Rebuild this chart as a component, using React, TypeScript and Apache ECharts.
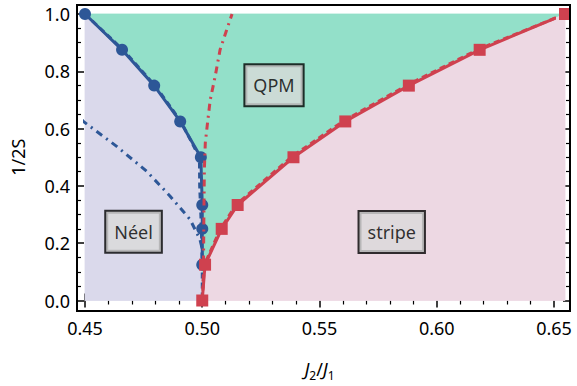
import React, { useEffect, useRef } from 'react';
import * as echarts from 'echarts';

// Axis ticks
const xTickMin = 0.45;
const xTickMax = 0.65;
const xTickStep = 0.05;
const yTickMin = 0;
const yTickMax = 1;
const yTickStep = 0.2;

// Néel–QPM boundary (blue, circles)
const blueX = [0.45, 0.4658, 0.4795, 0.4906, 0.4994, 0.5, 0.5, 0.5];
const blueY = [1.0, 0.875, 0.75, 0.625, 0.5, 0.3333, 0.25, 0.125];

// blue dashed curve
const blueDashX = [0.45, 0.4662, 0.4799, 0.4909, 0.4988, 0.4989, 0.4994, 0.4998, 0.5, 0.5];
const blueDashY = [1.0, 0.875, 0.75, 0.625, 0.5, 0.4, 0.3, 0.2, 0.1, 0.0];

// blue dash-dot curve
const blueDotX = [0.4486, 0.4493, 0.4635, 0.4763, 0.4862, 0.4948, 0.499, 0.5003];
const blueDotY = [0.632, 0.625, 0.538, 0.451, 0.365, 0.283, 0.214, 0.17];

// QPM–stripe boundary (red, squares)
const redX = [0.5, 0.5012, 0.5083, 0.5151, 0.5389, 0.561, 0.5881, 0.6183, 0.6547];
const redY = [0.0, 0.125, 0.25, 0.3333, 0.5, 0.625, 0.75, 0.875, 1.0];

// red dashed curve
const redDashX = [0.5, 0.5009, 0.5079, 0.5146, 0.5383, 0.5604, 0.5876, 0.6178, 0.6547];
const redDashY = [0.0, 0.125, 0.252, 0.3355, 0.5025, 0.6275, 0.7525, 0.877, 1.0];

// red dash-dot curve
const redDotX = [0.5, 0.5005, 0.5007, 0.5009, 0.5013, 0.5024, 0.5034, 0.5055, 0.5076, 0.5104, 0.5127];
const redDotY = [0.0, 0.1, 0.3, 0.457, 0.55, 0.631, 0.7, 0.782, 0.875, 0.944, 1.0];

// phase labels
const phaseNames = ['QPM', 'Néel', 'stripe'];
const phaseX = [0.5306, 0.4707, 0.5808];
const phaseY = [0.751, 0.24, 0.239];

const FONT = 'Noto Sans';
const BLUE = '#2D5797';
const RED = '#CF414F';

const zip = (xs: number[], ys: number[]) => xs.map((x, i) => [x, ys[i]]);

function regionSeries(points: number[][], color: string, z: number) {
  return {
    type: 'custom',
    xAxisIndex: 1,
    yAxisIndex: 1,
    z,
    silent: true,
    clip: false,
    data: [[0.5, 0.5]],
    renderItem: (_p: any, api: any) => ({
      type: 'polygon',
      shape: { points: points.map((p) => api.coord(p)) },
      style: { fill: color, stroke: color, lineWidth: 0.8 },
    }),
  };
}

function lineSeries(data: number[][], color: string, dash: any, z: number, extra: any = {}) {
  return {
    type: 'line',
    xAxisIndex: 1,
    yAxisIndex: 1,
    data,
    z,
    clip: false,
    silent: true,
    symbol: 'none',
    lineStyle: { color, width: 3, type: dash },
    ...extra,
  };
}

export default function App() {
  const ref = useRef<HTMLDivElement>(null);
  useEffect(() => {
    const chart = echarts.init(ref.current!, null, { renderer: 'svg' });

    const blueBoundary = [...zip(blueX, blueY), [0.5, 0]];
    const redBoundary = zip(redX, redY);
    const left = blueX[0];
    const right = redX[redX.length - 1];
    const neel = [...blueBoundary, [left, 0]];
    const qpm = [...blueBoundary, ...redBoundary];
    const stripe = [...redBoundary, [right, 0]];

    const tick = { show: true, inside: true, length: 7, lineStyle: { color: '#000', width: 1.5 } };
    const minor = (n: number) => ({ show: true, splitNumber: n, length: 4, lineStyle: { color: '#000', width: 1.2 } });
    const labelStyle = { fontSize: 18, color: '#000', fontFamily: FONT };

    const option: any = {
      animation: false,
      backgroundColor: '#fff',
      grid: [
        { left: 77, right: 7, top: 5, bottom: 75, show: true, borderColor: '#000', borderWidth: 2, backgroundColor: 'transparent', z: 10 },
        { left: 85, right: 23, top: 14, bottom: 84.5 },
      ],
      xAxis: [
        { gridIndex: 0, type: 'value', min: 0, max: 1, show: false },
        {
          gridIndex: 1, type: 'value', position: 'bottom', min: xTickMin, max: xTickMax, interval: xTickStep,
          offset: 9.5, axisLine: { show: false }, axisTick: tick, minorTick: minor(5), splitLine: { show: false },
          axisLabel: { ...labelStyle, margin: 9, formatter: (v: number) => v.toFixed(2) },
          name: '{i|J}{s|2}/{i|J}{s|1}', nameLocation: 'middle', nameGap: 47,
          nameTextStyle: {
            ...labelStyle,
            rich: {
              i: { fontSize: 18, fontStyle: 'italic', fontFamily: FONT, color: '#000', lineHeight: 24 },
              s: { fontSize: 12, fontFamily: FONT, color: '#000', lineHeight: 12, verticalAlign: 'bottom' },
            },
          },
        },
        {
          gridIndex: 1, type: 'value', position: 'top', min: xTickMin, max: xTickMax, interval: xTickStep,
          offset: 9, axisLine: { show: false }, axisTick: tick, minorTick: minor(5), splitLine: { show: false },
          axisLabel: { show: false },
        },
      ],
      yAxis: [
        { gridIndex: 0, type: 'value', min: 0, max: 1, show: false },
        {
          gridIndex: 1, type: 'value', position: 'left', min: yTickMin, max: yTickMax, interval: yTickStep,
          offset: 8, axisLine: { show: false }, axisTick: tick, minorTick: minor(4), splitLine: { show: false },
          axisLabel: { ...labelStyle, margin: 7, formatter: (v: number) => v.toFixed(1) },
          name: '1/2S', nameLocation: 'middle', nameGap: 50, nameTextStyle: { ...labelStyle },
        },
        {
          gridIndex: 1, type: 'value', position: 'right', min: yTickMin, max: yTickMax, interval: yTickStep,
          offset: 16, axisLine: { show: false }, axisTick: tick, minorTick: minor(4), splitLine: { show: false },
          axisLabel: { show: false },
        },
      ],
      series: [
        regionSeries(neel, '#DAD9EB', 1),
        regionSeries(qpm, '#93E0C9', 1),
        regionSeries(stripe, '#EDD8E3', 1),
        lineSeries(zip(blueDotX, blueDotY), BLUE, [7, 5, 2, 5], 3),
        lineSeries(zip(blueDashX, blueDashY), BLUE, [6, 4], 4),
        lineSeries(zip(blueX, blueY), BLUE, 'solid', 5, {
          symbol: 'circle', symbolSize: 12, showSymbol: true, itemStyle: { color: BLUE, borderWidth: 0 },
        }),
        lineSeries(zip(redDotX, redDotY), RED, [7, 5, 2, 5], 6),
        lineSeries(zip(redDashX, redDashY), RED, [6, 4], 7),
        lineSeries(zip(redX, redY), RED, 'solid', 8, {
          symbol: 'rect', symbolSize: 12, showSymbol: true, itemStyle: { color: RED, borderWidth: 0 },
        }),
        {
          type: 'scatter',
          xAxisIndex: 1,
          yAxisIndex: 1,
          z: 20,
          silent: true,
          clip: false,
          symbolSize: 0,
          itemStyle: { color: 'transparent' },
          data: phaseNames.map((n, i) => ({ value: [phaseX[i], phaseY[i]], name: n })),
          label: {
            show: true,
            position: 'inside',
            formatter: (p: any) => p.name,
            fontSize: 18,
            fontFamily: FONT,
            color: '#000',
            textBorderWidth: 0,
            backgroundColor: '#D9D9D9',
            borderColor: '#000',
            borderWidth: 2,
            shadowBlur: 0,
            shadowColor: 'transparent',
            padding: [11, 8, 11, 8],
          },
        },
      ],
    };
    chart.setOption(option);
    return () => chart.dispose();
  }, []);
  return (
    <div
      ref={ref}
      style={{ position: 'fixed', left: 0, top: 0, width: 577, height: 386, background: '#fff' }}
    />
  );
}
